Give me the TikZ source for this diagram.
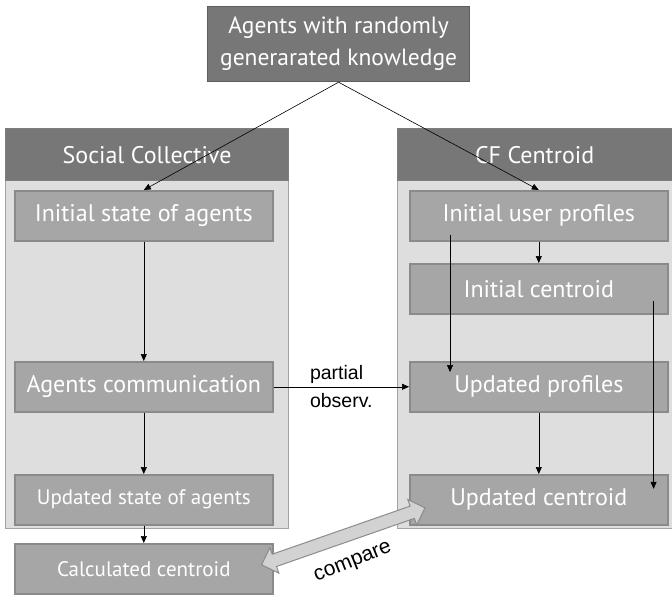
\documentclass[tikz,border=0pt]{standalone}
\usepackage{fontspec}
\setmainfont{PT Sans}
\newfontfamily\labelfont{Liberation Sans}
\usetikzlibrary{arrows.meta,positioning,calc,shapes.arrows}
\definecolor{ccDark}{HTML}{777777}
\definecolor{ccDarkEdge}{HTML}{5E5E5E}
\definecolor{ccMid}{HTML}{A6A6A6}
\definecolor{ccMidEdge}{HTML}{8A8A8A}
\definecolor{ccLight}{HTML}{DEDEDE}
\definecolor{ccLightEdge}{HTML}{A3A3A3}
\definecolor{ccArrow}{HTML}{D2D2D2}
\definecolor{ccArrowEdge}{HTML}{8C8C8C}
\tikzset{
    ccBoxBase/.style={
        rectangle,
        anchor=north west,
        inner sep=0pt,
        align=center,
        text=white
    },
    % Semantic Variants
    topBox/.style={ccBoxBase, fill=ccDark, draw=ccDarkEdge, line width=1.2pt,
        minimum width=262pt, minimum height=75pt, font=\fontsize{23.5}{32}\selectfont},
    frameBody/.style={ccBoxBase, fill=ccLight, draw=ccLightEdge, line width=1.2pt,
        minimum height=400pt},
    frameHead/.style={ccBoxBase, fill=ccDark, draw=ccDarkEdge!80, line width=1.2pt,
        minimum height=52pt, font=\fontsize{24}{28}\selectfont},
    stepBox/.style={ccBoxBase, fill=ccMid, draw=ccMidEdge, line width=1.6pt,
        minimum width=258pt, minimum height=50pt, font=\fontsize{24}{28}\selectfont},
    smallStep/.style={stepBox, font=\fontsize{21}{25}\selectfont},
    % Arrows
    ccArrowBase/.style={-{Triangle[length=7pt,width=6pt]}, line width=0.6pt, draw=black},
    ccLabel/.style={font=\labelfont\fontsize{19.5}{28}\selectfont, align=left, inner sep=0pt},
    compareArrow/.style={double arrow, draw=ccArrowEdge, fill=ccArrow, line width=1pt,
        inner sep=6pt, double arrow head extend=7pt, shape border uses incircle=false}
}
\begin{document}
\begin{tikzpicture}[x=1pt, y=-1pt]
\fill[white] (0,0) rectangle (672,597);
\useasboundingbox (0,0) rectangle (672,597);

% containers
\node[frameBody, minimum width=283pt] (leftBody) at (5,128) {};
\node[frameHead, minimum width=283pt] (leftHead) at (5,128) {Social Collective};
\node[frameBody, minimum width=280pt] (rightBody) at (397,128) {};
\node[frameHead, minimum width=280pt] (rightHead) at (397,128) {\hspace*{-6pt}CF Centroid};

\node[topBox] (agents) at (207,6) {Agents with randomly\\generarated knowledge};

% social collective side
\node[stepBox] (initState) at (14,190) {Initial state of agents};
\node[stepBox] (agentComm) at (14,361) {Agents communication};
\node[smallStep] (updState) at (14,474) {Updated state of agents};
\node[smallStep] (calcCent) at (14,543) {Calculated centroid};

% CF centroid side
\node[stepBox] (initProf) at (409,190) {Initial user profiles};
\node[stepBox] (initCent) at (409,263) {Initial centroid};
\node[stepBox] (updProf) at (409,361) {Updated profiles};
\node[stepBox] (updCent) at (409,474) {Updated centroid};

\draw[ccArrowBase] (agents.south) -- (initState.north);
\draw[ccArrowBase] (agents.south) -- (initProf.north);

\draw[ccArrowBase] (initState.south) -- (agentComm.north);
\draw[ccArrowBase] (agentComm.south) -- (updState.north);
\draw[ccArrowBase] (updState.south) -- (calcCent.north);

\draw[ccArrowBase] (agentComm.east) -- node[ccLabel] {partial\\observ.} (updProf.west);

\draw[ccArrowBase] (initProf.south) -- (initCent.north);
\draw[ccArrowBase] (updProf.south) -- (updCent.north);
\draw[ccArrowBase] ($(initProf.south west)+(41,-7)$) -- ($(updProf.north west)+(41,11)$);
\draw[ccArrowBase] ($(initCent.east)+(-15,12)$) -- ($(updCent.east)+(-15,-11)$);

% compare
\coordinate (cmpA) at ($(calcCent.east)+(-12,-4)$);
\coordinate (cmpB) at ($(updCent.west)+(16,8)$);
\path let \p1=(cmpA), \p2=(cmpB),
    \n1={atan2(\y2-\y1,\x2-\x1)}, \n2={veclen(\x2-\x1,\y2-\y1)} in
    node[compareArrow, rotate=\n1, minimum height=\n2] (cmp) at ($(cmpA)!0.5!(cmpB)$) {};
\node[ccLabel, font=\labelfont\fontsize{21}{25}\selectfont, rotate=22] (cmpLabel)
    at ($(cmpA)!0.5!(cmpB)+(10,27)$) {compare};
\end{tikzpicture}
\end{document}
